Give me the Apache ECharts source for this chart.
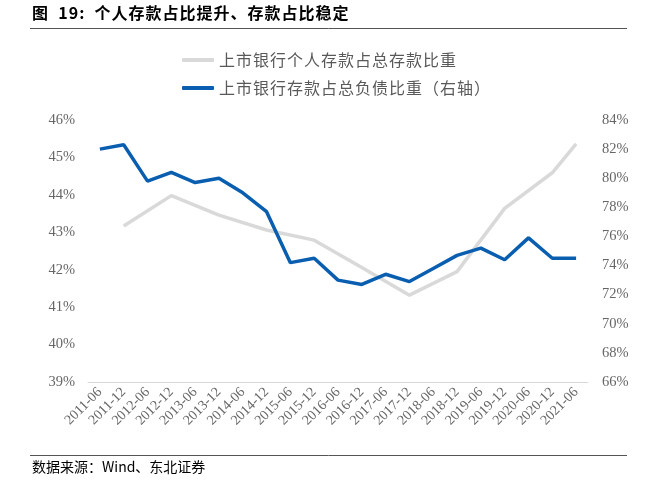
<!DOCTYPE html>
<html>
<head>
<meta charset="utf-8">
<script src="https://cdn.jsdelivr.net/npm/echarts@6/dist/echarts.min.js"></script>
<style>
html,body{margin:0;padding:0;background:#fff;}
#c{width:657px;height:495px;}
</style>
</head>
<body>
<div id="c"></div>
<script>
var categories = ['2011-06','2011-12','2012-06','2012-12','2013-06','2013-12','2014-06','2014-12','2015-06','2015-12','2016-06','2016-12','2017-06','2017-12','2018-06','2018-12','2019-06','2019-12','2020-06','2020-12','2021-06'];
var personalShare = [null,43.17,null,43.98,null,43.46,null,43.06,null,42.79,null,42.06,null,41.32,null,41.95,null,43.64,null,44.59,45.36];
var depositShare = [82.0,82.3,79.8,80.4,79.7,80.0,79.0,77.7,74.2,74.5,73.0,72.7,73.4,72.9,73.8,74.7,75.2,74.4,75.9,74.5,74.5];
var seriesNames = ['上市银行个人存款占总存款比重','上市银行存款占总负债比重（右轴）'];
var titleText = '图  19:  个人存款占比提升、存款占比稳定';
var sourceText = '数据来源：Wind、东北证券';

function spaced(s){ return s.split('').join('\u200A'); }

var chart = echarts.init(document.getElementById('c'));
var serif = '"Liberation Serif","DejaVu Serif",serif';
chart.setOption({
  animation: false,
  backgroundColor: '#fff',
  graphic: [
    {type:'text', left:32, top:5, style:{text:spaced(titleText), font:'bold 16px "Noto Sans CJK SC"', fill:'#000'}},
    {type:'line', shape:{x1:30,y1:28.5,x2:627,y2:28.5}, style:{stroke:'#555', lineWidth:1}},
    {type:'line', shape:{x1:30,y1:455.5,x2:627,y2:455.5}, style:{stroke:'#555', lineWidth:1}},
    {type:'text', left:32, top:460, style:{text:sourceText, font:'14px "Noto Sans CJK SC"', fill:'#000'}}
  ],
  legend: {
    orient: 'vertical',
    left: 182,
    top: 52,
    padding: 0,
    icon: 'roundRect',
    itemWidth: 32,
    itemHeight: 4,
    itemGap: 12,
    formatter: function(n){ return spaced(n); },
    textStyle: {fontSize: 16, color: '#595959', fontFamily: '"Noto Sans CJK SC"'},
    data: seriesNames
  },
  grid: {left: 88, right: 69, top: 120, bottom: 113},
  xAxis: {
    type: 'category',
    data: categories,
    boundaryGap: true,
    axisLine: {lineStyle: {color: '#d9d9d9'}},
    axisTick: {show: false},
    axisLabel: {rotate: 45, interval: 0, fontSize: 14, color: '#666', fontFamily: serif, margin: 8}
  },
  yAxis: [
    {type:'value', min:39, max:46, interval:1, position:'left',
     axisLine:{show:false}, axisTick:{show:false}, splitLine:{show:false},
     axisLabel:{formatter:'{value}%', fontSize:14.5, color:'#666', fontFamily:serif, margin:13}},
    {type:'value', min:66, max:84, interval:2, position:'right',
     axisLine:{show:false}, axisTick:{show:false}, splitLine:{show:false},
     axisLabel:{formatter:'{value}%', fontSize:14.5, color:'#666', fontFamily:serif, margin:14}}
  ],
  series: [
    {name: seriesNames[0], type:'line', yAxisIndex:0, data: personalShare, connectNulls:true,
     symbol:'none', lineStyle:{color:'#d9d9d9', width:3.5}, itemStyle:{color:'#d9d9d9'}},
    {name: seriesNames[1], type:'line', yAxisIndex:1, data: depositShare,
     symbol:'none', lineStyle:{color:'#0a5eb0', width:3.5}, itemStyle:{color:'#0a5eb0'}}
  ]
});
</script>
</body>
</html>
